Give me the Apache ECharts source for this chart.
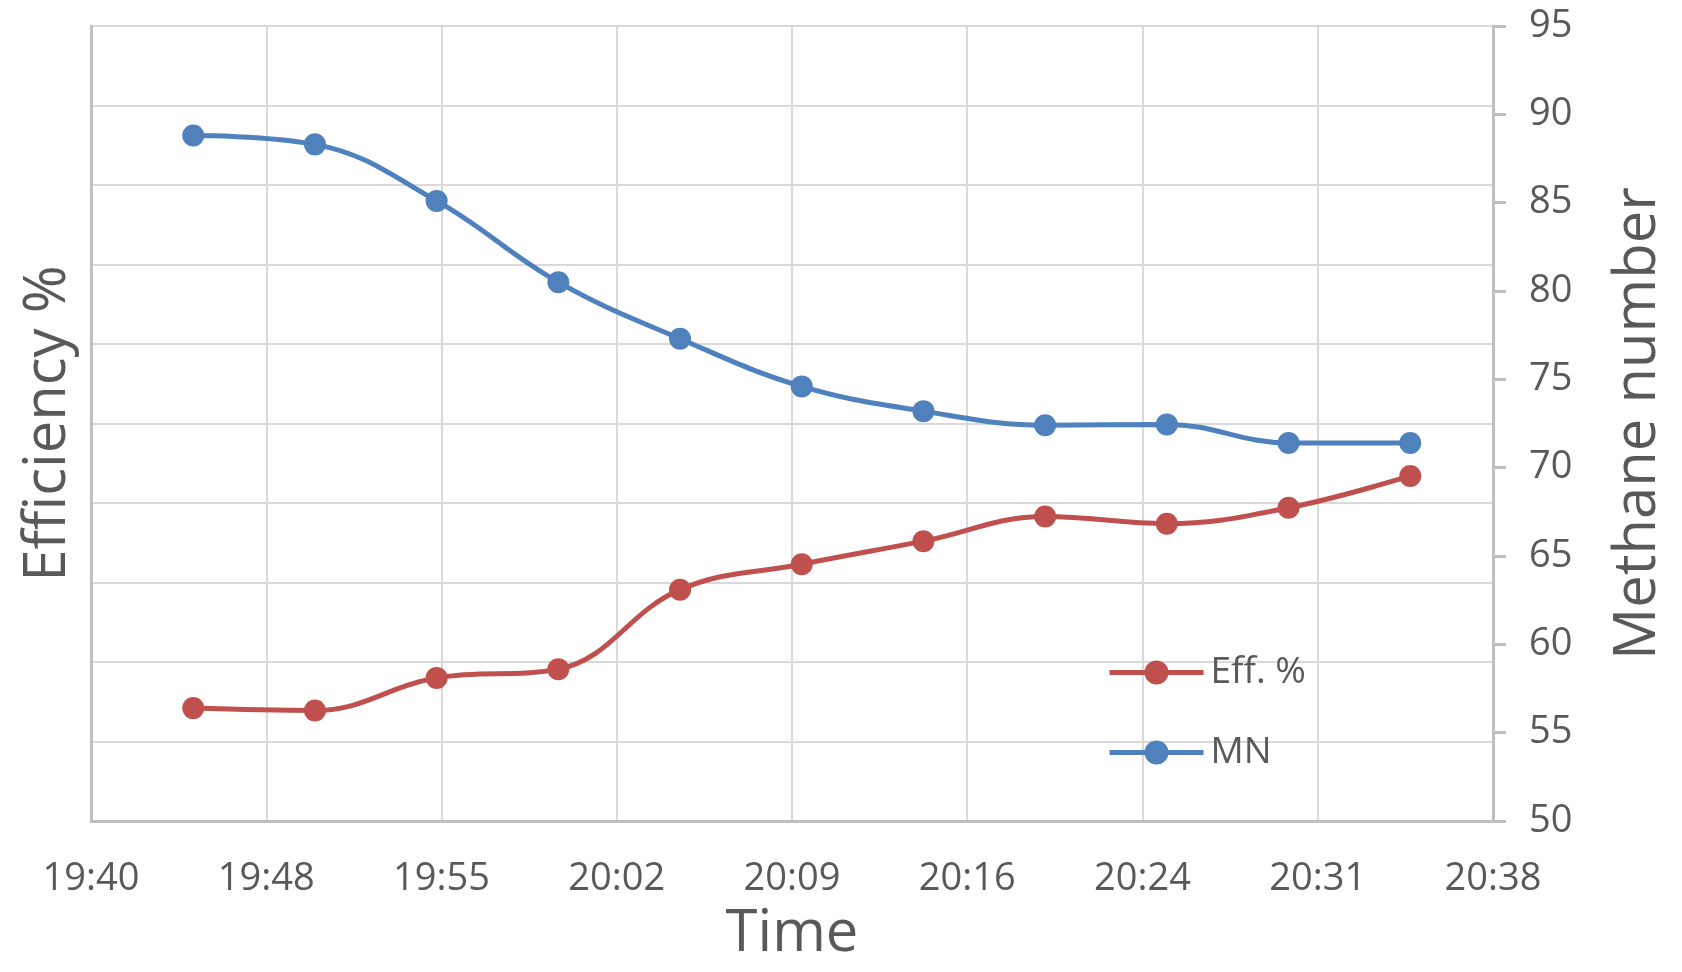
<!DOCTYPE html>
<html>
<head>
<meta charset="utf-8">
<script src="https://cdn.jsdelivr.net/npm/echarts@6/dist/echarts.min.js"></script>
<style>
  html, body { margin: 0; padding: 0; background: #ffffff; }
  #chart { width: 1682px; height: 972px; }
</style>
</head>
<body>
<div id="chart"></div>
<script>
// Sample times (h:mm)
const times = ['19:45', '19:50', '19:55', '20:00', '20:05', '20:10', '20:15', '20:20', '20:25', '20:30', '20:35'];
// Efficiency % (left axis)
const effValues = [31.42, 31.39, 31.80, 31.91, 32.91, 33.23, 33.52, 33.83, 33.74, 33.94, 34.34];
// Methane number (right axis)
const mnValues = [88.8, 88.3, 85.1, 80.5, 77.3, 74.6, 73.2, 72.4, 72.45, 71.4, 71.4];

// Time axis range in minutes after midnight (0.82 to 0.86 of a day, step 0.005 day)
const timeMin = 1180.8;
const timeMax = 1238.4;
const timeStep = 7.2;

const toMinutes = t => { const [h, m] = t.split(':').map(Number); return h * 60 + m; };
const fmtTime = v => {
  const total = Math.floor(v + 1e-6);
  const h = Math.floor(total / 60);
  const m = total % 60;
  return h + ':' + (m < 10 ? '0' : '') + m;
};

const textColor = '#595959';
const gridColor = '#D9D9D9';
const axisColor = '#BFBFBF';
const font = 'Open Sans';

const chart = echarts.init(document.getElementById('chart'), null, { renderer: 'canvas' });
chart.setOption({
  backgroundColor: '#ffffff',
  animation: false,
  textStyle: { fontFamily: font, color: textColor },
  grid: { left: 91, right: 189, top: 26, bottom: 151, containLabel: false },
  legend: {
    orient: 'vertical',
    left: 1102,
    top: 649,
    itemWidth: 94,
    itemHeight: 30,
    itemGap: 43,
    data: ['Eff. %', 'MN'],
    lineStyle: { width: 5 },
    textStyle: { fontFamily: font, fontSize: 37, color: textColor, padding: [0, 0, 0, 2] }
  },
  xAxis: {
    type: 'value',
    min: timeMin,
    max: timeMax,
    interval: timeStep,
    name: 'Time',
    nameLocation: 'middle',
    nameGap: 84,
    nameTextStyle: { fontFamily: font, fontSize: 58, color: textColor },
    axisLine: { show: true, lineStyle: { color: axisColor, width: 3 } },
    axisTick: { show: false },
    splitLine: { show: true, lineStyle: { color: gridColor, width: 2 } },
    axisLabel: { fontFamily: font, fontSize: 38, color: textColor, margin: 39, formatter: fmtTime }
  },
  yAxis: [
    {
      type: 'value',
      position: 'left',
      min: 30,
      max: 40,
      interval: 1,
      name: 'Efficiency %',
      nameLocation: 'middle',
      nameRotate: 90,
      nameGap: 14,
      nameTextStyle: { fontFamily: font, fontSize: 58, color: textColor },
      axisLine: { show: true, lineStyle: { color: axisColor, width: 3 } },
      axisTick: { show: false },
      axisLabel: { show: false },
      splitLine: { show: true, lineStyle: { color: gridColor, width: 2 } }
    },
    {
      type: 'value',
      position: 'right',
      min: 50,
      max: 95,
      interval: 5,
      name: 'Methane number',
      nameLocation: 'middle',
      nameRotate: 90,
      nameGap: 116,
      nameTextStyle: { fontFamily: font, fontSize: 58, color: textColor },
      axisLine: { show: true, lineStyle: { color: axisColor, width: 3 } },
      axisTick: { show: true, inside: false, length: 13, lineStyle: { color: axisColor, width: 3 } },
      axisLabel: { fontFamily: font, fontSize: 38, color: textColor, margin: 36 },
      splitLine: { show: false }
    }
  ],
  series: [
    {
      name: 'Eff. %',
      type: 'line',
      yAxisIndex: 0,
      smooth: 0.4,
      symbol: 'circle',
      symbolSize: 22,
      color: '#C0504D',
      lineStyle: { width: 5, color: '#C0504D' },
      itemStyle: { color: '#C0504D' },
      data: times.map((t, i) => [toMinutes(t), effValues[i]])
    },
    {
      name: 'MN',
      type: 'line',
      yAxisIndex: 1,
      smooth: 0.4,
      symbol: 'circle',
      symbolSize: 22,
      color: '#4F81BD',
      lineStyle: { width: 5, color: '#4F81BD' },
      itemStyle: { color: '#4F81BD' },
      data: times.map((t, i) => [toMinutes(t), mnValues[i]])
    }
  ]
});
</script>
</body>
</html>
